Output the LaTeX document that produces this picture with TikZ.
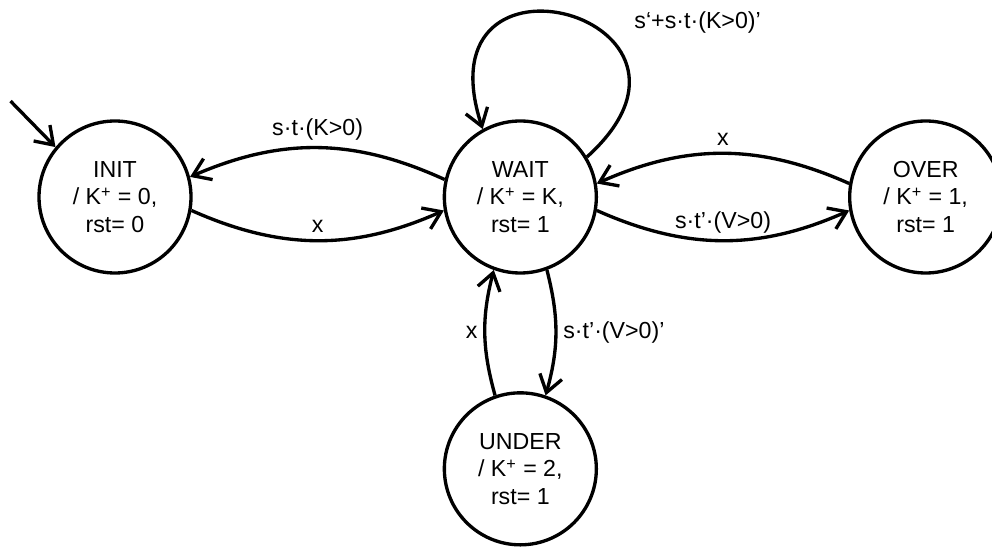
\documentclass[tikz,border=0pt]{standalone}
\usepackage{fontspec}
\setmainfont{Liberation Sans}
\usepackage{tikz}
\usetikzlibrary{arrows.meta, positioning}

\begin{document}
\begin{tikzpicture} [font=\fontsize{13.2}{15.6}\selectfont,
line width=1.9pt, >={Straight Barb[length=9.5pt, width=13pt]},
statenode/.style={circle, draw, minimum size=3.04cm, inner sep=0pt, align=center},
node distance=5.0cm]
%    fixed page size

\useasboundingbox (0,0) rectangle (19.84,10.94);

\node[statenode] (INIT) at (2.30,7.00) {INIT\\/ K\textsuperscript{+} = 0,\\rst= 0};
\node[statenode, right=of INIT] (WAIT) {WAIT\\/ K\textsuperscript{+} = K,\\rst= 1};
\node[statenode, right=of WAIT] (OVER) {OVER\\/ K\textsuperscript{+} = 1,\\rst= 1};
\node[statenode, below=2.33cm of WAIT] (UNDER) {UNDER\\/ K\textsuperscript{+} = 2,\\rst= 1};

% start arrow
\coordinate (start) at ([shift={(-0.90,0.92)}]INIT.140);
\draw[->] (start) -- (INIT.140);

\draw[->] (WAIT.167) to[bend right=24] node[above] {s·t·(K>0)} (INIT.15);
\draw[->] (INIT.-10) to[bend right=24] node[above] {x} (WAIT.190);
\draw[->] (OVER.170) to[bend right=24] node[above] {x} (WAIT.10);
\draw[->] (WAIT.-10) to[bend right=24] node[above] {s·t’·(V>0)} (OVER.190);
\draw[->] (WAIT.-70) to[bend left=15] node[right] {s·t’·(V>0)’} (UNDER.71);
\draw[->] (UNDER.109) to[bend left=15] node[left] {x} (WAIT.250);

% self loop
\draw[->] (WAIT.31) .. controls +(3.1,2.8) and +(-1.3,4.0) .. (WAIT.119)
	node[pos=0.32, anchor=south west, shift={(0.2,0.1)}] {s‘+s·t·(K>0)’};

\end{tikzpicture}
\end{document}
